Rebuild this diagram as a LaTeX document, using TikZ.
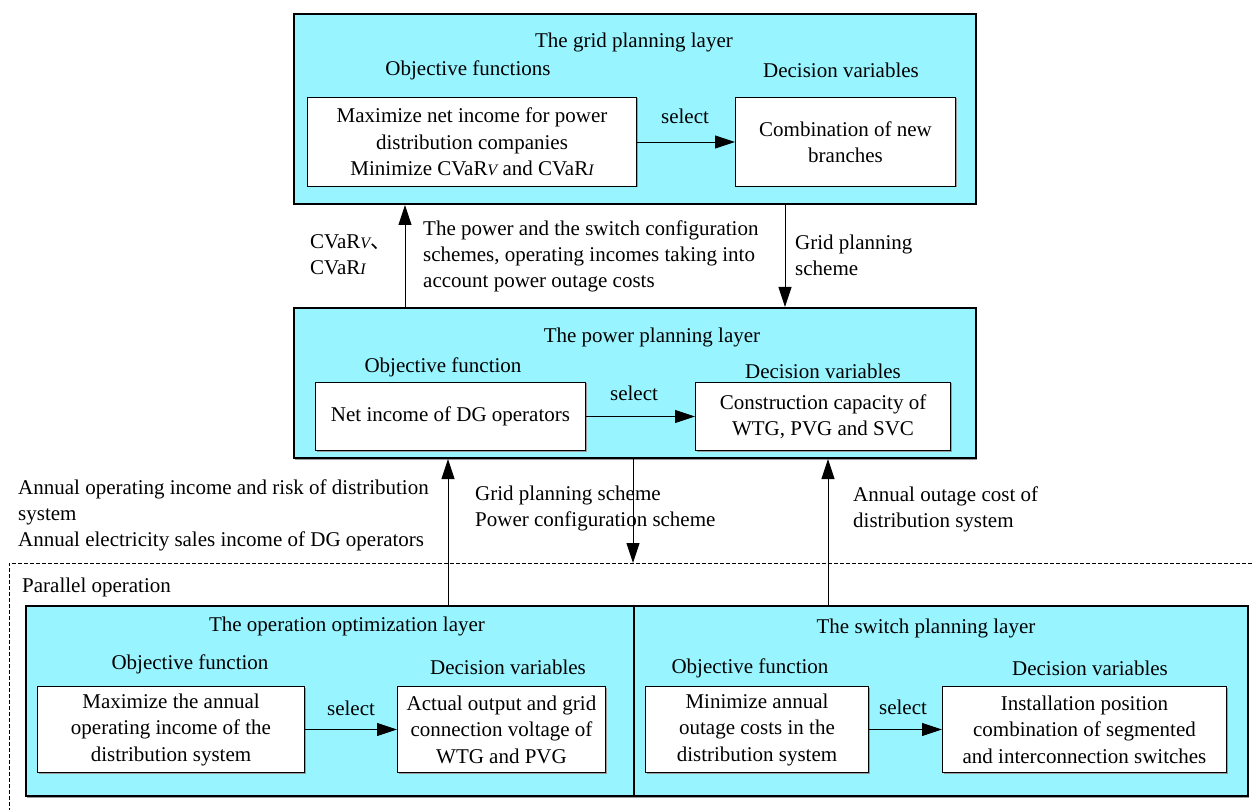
\documentclass[tikz,border=0pt]{standalone}
\usepackage{fontspec}
\setmainfont{Liberation Serif}
\newfontfamily\cjk{Noto Sans CJK SC}
\usetikzlibrary{arrows.meta,shadows}
\definecolor{layercyan}{RGB}{152,245,255}
\newcommand{\cvar}[1]{CVaR{\fontsize{16}{16}\selectfont\itshape #1}}
\tikzset{
  layer/.style={draw, line width=2pt, fill=layercyan, anchor=north west, inner sep=0pt,
    drop shadow={shadow xshift=1.2pt, shadow yshift=-1.5pt, fill=black!40, opacity=1}},
  item/.style={draw, line width=1pt, fill=white, anchor=north west, inner sep=0pt, align=center,
    font=\fontsize{21}{26.5}\selectfont,
    drop shadow={shadow xshift=1pt, shadow yshift=-1pt, fill=black!40, opacity=1}},
  txt/.style={inner sep=0pt, font=\fontsize{21}{26}\selectfont},
  note/.style={txt, anchor=west, align=left},
  flow/.style={-{Triangle[length=20pt,width=13pt]}, line width=0.9pt},
}

\begin{document}
\begin{tikzpicture}[x=1pt,y=-1pt]
    \useasboundingbox (0,0) rectangle (1254,810);

    \coordinate (upA) at (405,0);
    \coordinate (downA) at (785,0);
    \coordinate (upB) at (448,0);
    \coordinate (downB) at (633,0);
    \coordinate (upC) at (828,0);
    \coordinate (dashB) at (9,812);
    \coordinate (dashL) at (9,563);
    \coordinate (dashR) at (1256,563);
    \coordinate (par) at (633,563);

    \node [layer, minimum width=682, minimum height=190] (grid) at (293,13) {};
    \node [layer, minimum width=682, minimum height=150] (pow) at (293,307) {};
    \node [layer, minimum width=608, minimum height=190] (opt) at (25,605) {};
    \node [layer, minimum width=614, minimum height=190] (sw) at (633,605) {};

    \node [txt] (gridT) at (634,42) {The grid planning layer};
    \node [txt] (gridO) at (468,70) {Objective functions};
    \node [txt] (gridD) at (841,70) {Decision variables};
    \node [item, minimum width=329, minimum height=89] (gridL) at (307,97)
        {Maximize net income for power\\distribution companies\\Minimize \cvar{V} and \cvar{I}};
    \node [item, minimum width=220, minimum height=89] (gridR) at (735,97)
        {Combination of new\\branches};
    \node [txt] (gridS) at (685,116) {select};

    \node [txt] (powT) at (652,337) {The power planning layer};
    \node [txt] (powO) at (443,367) {Objective function};
    \node [txt] (powD) at (823,371) {Decision variables};
    \node [item, minimum width=270, minimum height=68] (powL) at (315,382)
        {Net income of DG operators};
    \node [item, minimum width=255, minimum height=68] (powR) at (695,382)
        {Construction capacity of\\WTG, PVG and SVC};
    \node [txt] (powS) at (634,393) {select};

    \node [txt] (optT) at (347,626) {The operation optimization layer};
    \node [txt] (optO) at (190,664) {Objective function};
    \node [txt] (optD) at (508,667) {Decision variables};
    \node [item, minimum width=267, minimum height=86] (optL) at (37,686)
        {Maximize the annual\\operating income of the\\distribution system};
    \node [item, minimum width=208, minimum height=86] (optR) at (397,686)
        {Actual output and grid\\connection voltage of\\WTG and PVG};
    \node [txt] (optS) at (351,708) {select};

    \node [txt] (swT) at (926,628) {The switch planning layer};
    \node [txt] (swO) at (750,668) {Objective function};
    \node [txt] (swD) at (1090,668) {Decision variables};
    \node [item, minimum width=223, minimum height=86] (swL) at (645,686)
        {Minimize annual\\outage costs in the\\distribution system};
    \node [item, minimum width=284, minimum height=86] (swR) at (942,686)
        {Installation position\\combination of segmented\\and interconnection switches};
    \node [txt] (swS) at (903,707) {select};

    \draw [flow] (gridL.east) -- (gridR.west);
    \draw [flow] (powL.east) -- (powR.west);
    \draw [flow] (optL.east) -- (optR.west);
    \draw [flow] (swL.east) -- (swR.west);

    \draw [flow] (pow.north -| upA) -- (grid.south -| upA);
    \draw [flow] (grid.south -| downA) -- (pow.north -| downA);
    \draw [flow] (opt.north -| upB) -- (pow.south -| upB);
    \draw [flow] (pow.south -| downB) -- (par);
    \draw [flow] (sw.north -| upC) -- (pow.south -| upC);

    \draw [dash pattern=on 4pt off 2pt, line width=0.6pt] (dashB) -- (dashL) -- (dashR);

    \node [note] (cvarN) at (310,255) {\cvar{V}{\cjk 、}\\\cvar{I}};
    \node [note] (feedN) at (423,256)
        {The power and the switch configuration\\schemes, operating incomes taking into\\account power outage costs};
    \node [note] (gridN) at (795,255) {Grid planning\\scheme};
    \node [note] (incN) at (18,515)
        {Annual operating income and risk of distribution\\system\\Annual electricity sales income of DG operators};
    \node [note] (schN) at (475,508) {Grid planning scheme\\Power configuration scheme};
    \node [note] (costN) at (853,509) {Annual outage cost of\\distribution system};
    \node [note] (parN) at (22,587) {Parallel operation};
\end{tikzpicture}
\end{document}
